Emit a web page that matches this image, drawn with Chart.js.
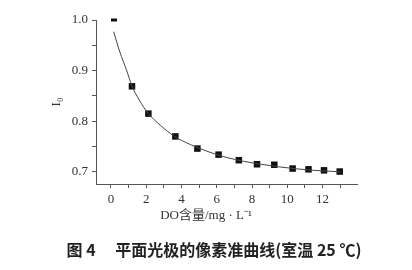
<!DOCTYPE html>
<html>
<head>
<meta charset="utf-8">
<script src="https://cdn.jsdelivr.net/npm/chart.js@4"></script>
<style>
  html, body { margin: 0; padding: 0; background: #fff; }
  #wrap { width: 412px; height: 270px; }
</style>
</head>
<body>
<div id="wrap"><canvas id="c"></canvas></div>
<script>
// measured points
const doConc = [0.17, 1.19, 2.12, 3.65, 4.9, 6.1, 7.25, 8.28, 9.26, 10.3, 11.2, 12.08, 12.97];
const i0 = [1.0, 0.869, 0.815, 0.770, 0.746, 0.734, 0.723, 0.715, 0.714, 0.7065, 0.705, 0.703, 0.7006];
// fitted curve
const fitX = [0.15, 0.5, 0.87, 1.2, 1.6, 2.1, 2.8, 3.6, 4.5, 5.5, 6.5, 7.5, 8.5, 9.5, 10.5, 11.5, 12.5, 13.0];
const fitY = [0.977, 0.937, 0.902, 0.869, 0.842, 0.816, 0.792, 0.770, 0.754, 0.740, 0.729, 0.721, 0.715, 0.710, 0.706, 0.703, 0.701, 0.700];
// axis ticks
const xTicks = [0, 1, 2, 3, 4, 5, 6, 7, 8, 9, 10, 11, 12, 13];
const xLabels = [0, 2, 4, 6, 8, 10, 12];
const yTicks = [0.7, 0.75, 0.8, 0.85, 0.9, 0.95, 1.0];
const yLabels = [0.7, 0.8, 0.9, 1.0];

const axisColor = "#555";
const serif = "'Liberation Serif', 'Noto Sans CJK SC', serif";

new Chart(document.getElementById("c"), {
  type: "scatter",
  data: {
    datasets: [
      {
        data: fitX.map((x, i) => ({ x, y: fitY[i] })),
        showLine: true,
        borderColor: "#444",
        borderWidth: 1,
        pointRadius: 0,
        cubicInterpolationMode: "monotone",
        clip: false
      },
      {
        data: doConc.map((x, i) => ({ x, y: i0[i] })),
        pointStyle: ctx => ctx.dataIndex === 0 ? "line" : "rect",
        pointRadius: ctx => ctx.dataIndex === 0 ? 3 : 4.6,
        borderWidth: ctx => ctx.dataIndex === 0 ? 3 : 0,
        backgroundColor: "#111",
        borderColor: "#111",
        clip: false
      }
    ]
  },
  options: {
    responsive: true,
    maintainAspectRatio: false,
    animation: false,
    layout: { padding: { top: 20, right: 0, left: 0, bottom: 0 } },
    plugins: {
      legend: { display: false },
      tooltip: { enabled: false },
      subtitle: {
        display: true,
        position: "bottom",
        text: "DO含量/mg · L⁻¹",
        color: "#333",
        font: { family: serif, size: 13, weight: "normal" },
        padding: { top: 4, bottom: 3 }
      },
      title: {
        display: true,
        position: "bottom",
        text: "　图 4　 平面光极的像素准曲线(室温 25 ℃)",
        color: "#222",
        font: { family: "'Noto Sans CJK SC', sans-serif", size: 16, weight: "bold", lineHeight: 1.2 },
        padding: { top: 13.4, bottom: 10.8 }
      }
    },
    scales: {
      x: {
        type: "linear",
        min: -0.85,
        max: 13.95,
        afterBuildTicks: s => { s.ticks = xTicks.map(v => ({ value: v })); },
        afterFit: s => { s.height = 20; },
        ticks: {
          autoSkip: false,
          padding: 4,
          color: "#333",
          font: { family: serif, size: 13 },
          callback: v => xLabels.includes(v) ? String(v) : ""
        },
        grid: { drawOnChartArea: false, drawTicks: true, tickLength: 4, color: axisColor },
        border: { display: true, color: axisColor, width: 1 }
      },
      y: {
        type: "linear",
        min: 0.676,
        max: 1.0,
        afterBuildTicks: s => { s.ticks = yTicks.map(v => ({ value: v })); },
        afterFit: s => { s.width = 96; },
        title: {
          display: true,
          text: "I₀",
          color: "#333",
          font: { family: serif, size: 13 },
          padding: { top: 49, bottom: 0 }
        },
        ticks: {
          autoSkip: false,
          padding: 4,
          color: "#333",
          font: { family: serif, size: 13 },
          callback: v => yLabels.some(l => Math.abs(l - v) < 1e-9) ? v.toFixed(1) : ""
        },
        grid: { drawOnChartArea: false, drawTicks: true, tickLength: 4, color: axisColor },
        border: { display: true, color: axisColor, width: 1 }
      },
      // empty right margin so the bottom texts center on the page
      yPad: {
        type: "linear",
        position: "right",
        display: true,
        afterFit: s => { s.width = 55; },
        ticks: { display: false },
        grid: { display: false },
        border: { display: false }
      }
    }
  }
});
</script>
</body>
</html>
